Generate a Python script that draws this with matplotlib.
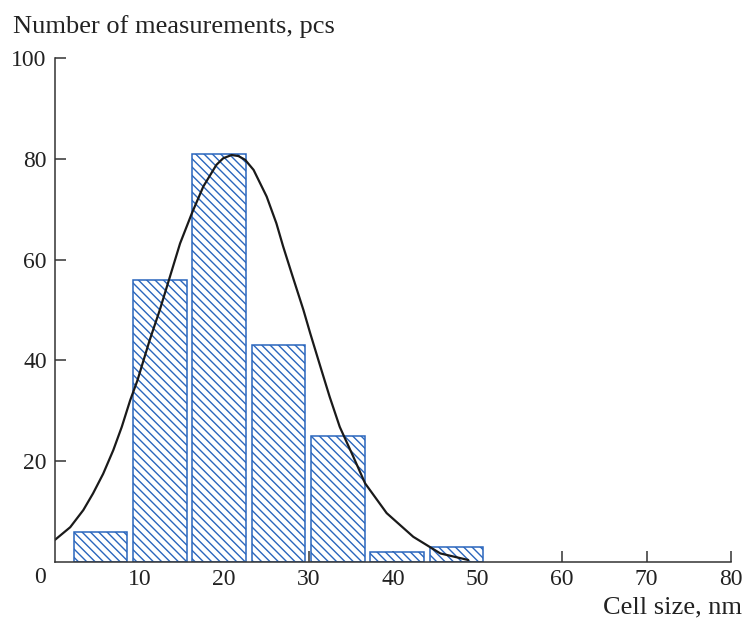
import matplotlib
matplotlib.use("Agg")
import matplotlib.pyplot as plt

# Histogram data
bin_centers = [5.4, 12.4, 19.4, 26.45, 33.5, 40.5, 47.5]
counts = [6, 56, 81, 43, 25, 2, 3]

# Fitted curve, points
curve_x = [0, 1.8, 3.35, 4.5, 5.7, 6.9, 7.9, 8.9, 9.75, 11.2, 12.4, 13.6, 14.8, 16.2,
           17.55, 19.1, 19.9, 20.9, 21.7, 22.5, 23.5, 25.05, 26.2, 27.0, 28.0, 29.4,
           30.2, 31.4, 32.5, 33.7, 35.3, 36.7, 39.25, 42.4, 45.6, 48.9]
curve_y = [4.4, 6.9, 10.3, 13.6, 17.5, 22.2, 26.8, 32.1, 36.0, 44.0, 50.0, 56.6, 63.2, 69.2,
           74.5, 78.8, 80.1, 80.75, 80.55, 79.8, 77.8, 72.5, 67.2, 62.6, 57.3, 50.0,
           45.4, 38.8, 32.8, 26.8, 20.9, 15.6, 9.7, 5.0, 1.7, 0.4]

x_ticks = [10, 20, 30, 40, 50, 60, 70, 80]
y_ticks = [20, 40, 60, 80, 100]

plt.rcParams['font.family'] = ['Liberation Serif', 'DejaVu Serif']
plt.rcParams['hatch.linewidth'] = 1.0

fig = plt.figure(figsize=(7.46, 6.18), dpi=100)
ax = fig.add_axes([55/746, 56/618, 676/746, 504/618])

blue = '#2a66bd'
ax.bar(bin_centers, counts, width=6.35, color='white', edgecolor=blue,
       linewidth=1.1, hatch='\\\\\\\\', zorder=2)
ax.plot(curve_x, curve_y, color='#1a1a1a', linewidth=1.6, zorder=3,
        solid_joinstyle='round', solid_capstyle='round')

ax.set_xlim(0, 80)
ax.set_ylim(0, 100)
ax.spines['top'].set_visible(False)
ax.spines['right'].set_visible(False)
for s in ('left', 'bottom'):
    ax.spines[s].set_color('#333333')
    ax.spines[s].set_linewidth(1.1)
    ax.spines[s].set_zorder(4)

ax.set_xticks(x_ticks)
ax.set_xticklabels([str(v) for v in x_ticks])
ax.set_yticks(y_ticks)
ax.set_yticklabels([str(v) for v in y_ticks])
ax.tick_params(axis='both', direction='in', length=8, width=1.1, color='#333333',
               labelsize=17, labelcolor='#222222')
ax.tick_params(axis='x', pad=5)
ax.tick_params(axis='y', pad=6)

ax.text(-15/676, -5/504, '0', transform=ax.transAxes, ha='center', va='top',
        fontsize=17, color='#222222')
fig.text(13/746, 1 - 33/618, 'Number of measurements, pcs', ha='left', va='baseline',
         fontsize=19, color='#222222')
fig.text(742/746, 1 - 613/618, 'Cell size, nm', ha='right', va='baseline',
         fontsize=19, color='#222222')

fig.savefig('out.png', dpi=100)
